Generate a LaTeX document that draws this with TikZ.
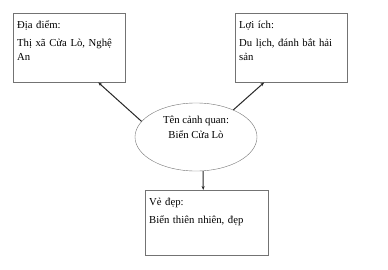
\documentclass[tikz,border=0pt]{standalone}
\usepackage{fontspec}
\setmainfont{Liberation Serif}
\usetikzlibrary{arrows.meta,positioning,shapes.geometric}

\begin{document}
\begin{tikzpicture}[
    x=1pt, y=-1pt,
    info/.style={rectangle, draw=black!55, anchor=north west, minimum width=112pt,
        text height=13pt, text depth=52pt,
        text width=104pt, align=left, inner xsep=4pt, inner ysep=2pt, font=\fontsize{10.7}{14}\selectfont},
    centre/.style={ellipse, draw=black!55, minimum width=122pt, minimum height=59pt, align=center,
        font=\fontsize{10.7}{15}\selectfont},
    arrow/.style={-{Stealth[length=4pt,width=3pt]}, line width=1pt, draw=black!85}
]
\useasboundingbox (0,0) rectangle (388,270);

% Centre
\node[centre] (name) at (196,137) {Tên cảnh quan:\\Biển Cửa Lò\\[4pt]};

% Boxes
\node[info] (place) at (13,13) {Địa điểm:\\[4pt]Thị xã Cửa Lò, Nghệ An};
\node[info] (benefit) at (235,13) {Lợi ích:\\[4pt]Du lịch, đánh bắt hải sản};
\node[info, minimum width=123pt, text depth=48pt, text width=115pt] (beauty) at (145,190) {Vẻ đẹp:\\[4pt]Biển thiên nhiên, đẹp};

% Connectors
\draw[arrow] (name.164) -- ([xshift=29pt]place.south);
\draw[arrow] (name.36) -- ([xshift=-27pt]benefit.south);
\draw[arrow] ([xshift=7pt]name.south) -- ([xshift=-3.5pt]beauty.north);
\end{tikzpicture}
\end{document}
